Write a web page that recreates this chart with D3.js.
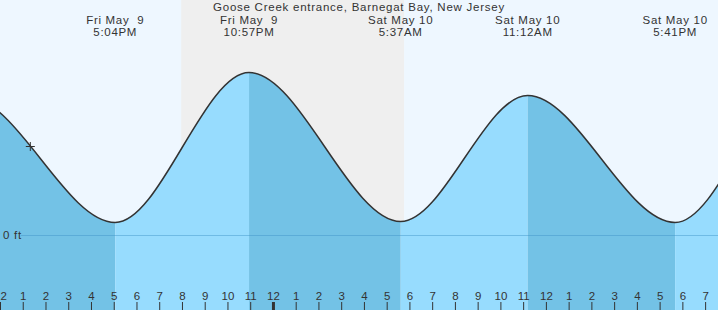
<!DOCTYPE html>
<html>
<head>
<meta charset="utf-8">
<script src="https://cdn.jsdelivr.net/npm/d3@7"></script>
<style>
  body { margin: 0; background: #fff; }
  svg { display: block; }
  text { font-family: "Liberation Sans", Arial, sans-serif; fill: #333; }
</style>
</head>
<body>
<div class="chart"></div>
<script>
const title = "Goose Creek entrance, Barnegat Bay, New Jersey";

// high / low tide predictions (ft); first two and last two fall outside the window
const tideTimes = [
  new Date(2025, 4, 9, 4, 20),
  new Date(2025, 4, 9, 10, 35),
  new Date(2025, 4, 9, 17, 4),
  new Date(2025, 4, 9, 22, 57),
  new Date(2025, 4, 10, 5, 37),
  new Date(2025, 4, 10, 11, 12),
  new Date(2025, 4, 10, 17, 41),
  new Date(2025, 4, 10, 23, 25),
  new Date(2025, 4, 11, 6, 10)
];
const tideLevels = [0.14, 1.38, 0.13, 1.63, 0.14, 1.40, 0.13, 1.61, 0.14];
const labelled = [2, 3, 4, 5, 6];   // extremes that get a date/time label

const sunset = new Date(2025, 4, 9, 19, 58);
const sunrise = new Date(2025, 4, 10, 5, 46);
const nowTime = new Date(2025, 4, 9, 13, 20);
const nowLevel = 0.89;

const timeStart = new Date(2025, 4, 9, 12, 0);
const timeEnd = new Date(2025, 4, 10, 19, 34);

const width = 718, height = 310;

const data = tideTimes.map((t, i) => ({time: t, level: tideLevels[i]}));

const svg = d3.select(".chart").append("svg")
  .attr("width", width)
  .attr("height", height);

const xScale = d3.scaleTime()
  .domain([timeStart, timeEnd])
  .range([0, width]);

const yScale = d3.scaleLinear()
  .domain([0, 1])
  .range([235.5, 135.5]);

// day / night background
svg.append("rect")
  .attr("width", width).attr("height", height)
  .attr("fill", "#eef7ff");
svg.append("rect")
  .attr("x", xScale(sunset))
  .attr("width", xScale(sunrise) - xScale(sunset))
  .attr("height", height)
  .attr("fill", "#efefef");

const area = d3.area()
  .x(d => xScale(d.time))
  .y0(height)
  .y1(d => yScale(d.level))
  .curve(d3.curveMonotoneX);

const line = d3.line()
  .x(d => xScale(d.time))
  .y(d => yScale(d.level))
  .curve(d3.curveMonotoneX);

// water: darker while falling, lighter while rising
const defs = svg.append("defs");
for (let i = 0; i < data.length - 1; i++) {
  const x0 = xScale(data[i].time), x1 = xScale(data[i + 1].time);
  defs.append("clipPath").attr("id", "seg" + i)
    .append("rect")
    .attr("x", x0).attr("y", 0)
    .attr("width", x1 - x0).attr("height", height);
  svg.append("path")
    .datum(data)
    .attr("clip-path", `url(#seg${i})`)
    .attr("fill", data[i + 1].level < data[i].level ? "#73c2e6" : "#97dcfe")
    .attr("d", area);
}

// zero line
svg.append("line")
  .attr("x1", 21).attr("x2", width)
  .attr("y1", yScale(0)).attr("y2", yScale(0))
  .attr("stroke", "#3d93c8")
  .attr("stroke-opacity", 0.45)
  .attr("stroke-width", 1);
svg.append("text")
  .attr("x", 3)
  .attr("y", yScale(0) + 3)
  .attr("font-size", 11.5)
  .attr("letter-spacing", 0.7)
  .text("0 ft");

svg.append("path")
  .datum(data)
  .attr("fill", "none")
  .attr("stroke", "#333")
  .attr("stroke-width", 1.5)
  .attr("d", line);

// current time marker
const cx = xScale(nowTime), cy = yScale(nowLevel);
svg.append("path")
  .attr("d", `M${cx - 4.5},${cy}H${cx + 4.5}M${cx},${cy - 4.5}V${cy + 4.5}`)
  .attr("stroke", "#333")
  .attr("stroke-width", 1);

// hour axis
const xAxis = d3.axisTop(xScale)
  .ticks(d3.timeHour.every(1))
  .tickFormat(d3.timeFormat("%-I"))
  .tickSize(8)
  .tickPadding(2);

svg.append("g")
  .attr("class", "axis x-axis")
  .attr("transform", `translate(0, ${height})`)
  .call(xAxis)
  .call(g => g.select(".domain").remove())
  .call(g => g.selectAll(".tick line")
    .attr("stroke", "#333")
    .attr("stroke-width", d => d.getHours() === 0 ? 3 : 1))
  .call(g => g.selectAll(".tick text")
    .attr("font-size", 11.5)
    .attr("font-family", null)
    .attr("fill", "#333"));

// title and tide labels
const fmtDay = d3.timeFormat("%a %b %e");
const fmtTime = d3.timeFormat("%-I:%M%p");

svg.append("text")
  .attr("x", width / 2)
  .attr("y", 10.5)
  .attr("text-anchor", "middle")
  .attr("font-size", 11.5)
  .attr("letter-spacing", 0.75)
  .text(title);

const labels = svg.selectAll(".tide-label")
  .data(labelled.map(i => data[i]))
  .enter()
  .append("text")
  .attr("class", "tide-label")
  .attr("text-anchor", "middle")
  .attr("font-size", 11.5)
  .attr("letter-spacing", 0.7)
  .style("white-space", "pre");

labels.append("tspan")
  .attr("x", d => xScale(d.time))
  .attr("y", 23.5)
  .text(d => fmtDay(d.time));
labels.append("tspan")
  .attr("x", d => xScale(d.time))
  .attr("y", 36)
  .text(d => fmtTime(d.time));
</script>
</body>
</html>
